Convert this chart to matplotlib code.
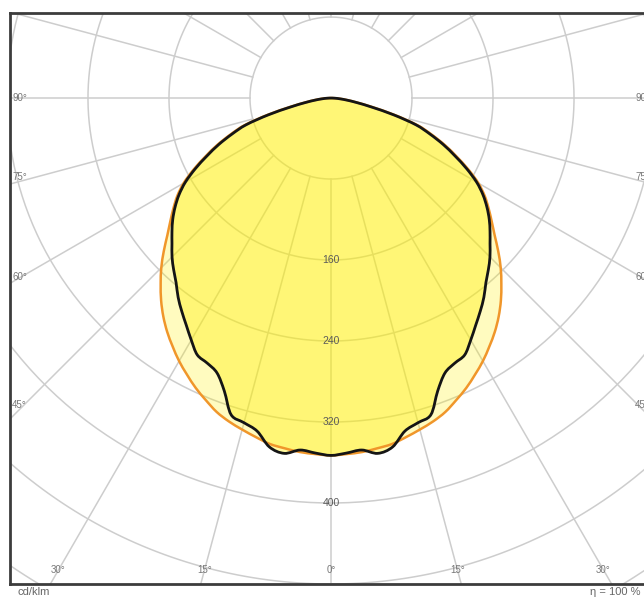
import numpy as np
import matplotlib.pyplot as plt
from matplotlib.path import Path
from matplotlib.patches import PathPatch

plt.rcParams['font.family'] = ['Liberation Sans', 'DejaVu Sans']

# gamma angles (deg) and intensities in cd/klm
gamma = np.arange(0, 92.5, 2.5)
c0_c180 = [353, 352, 351, 349, 347, 343, 339, 335, 330, 323, 316, 308, 300,
           291, 282, 272, 261, 249, 237, 224, 211, 200, 190, 180, 168, 153,
           137, 122, 106, 90, 66, 43, 27, 17, 10, 4, 0]
c90_c270 = [353, 351, 349, 354, 350, 337, 332, 328, 308, 294, 289, 286, 276,
            266, 257, 248, 238, 230, 222, 213, 205, 197, 188, 178, 166, 151,
            135, 120, 104, 88, 64, 41, 26, 16, 9, 4, 0]

rings = [80, 160, 240, 320, 400, 480, 560]
ring_labels = [160, 240, 320, 400]
spokes = np.arange(0, 360, 15)
bottom_angles = [-30, -15, 0, 15, 30]
side_angles = [90, 75, 60, 45]
side_nudge = [0, 4, 0, 4]


def to_xy(ang, r):
    a = np.radians(ang)
    return np.asarray(r) * np.sin(a), -np.asarray(r) * np.cos(a)


def full_curve(vals):
    ang = np.concatenate([-gamma[::-1], gamma[1:]])
    r = np.concatenate([np.asarray(vals)[::-1], np.asarray(vals)[1:]])
    return to_xy(ang, r)


def smooth_path(x, y):
    # catmull-rom through the read points, drawn as cubic beziers
    p = np.column_stack([x, y])
    n = len(p)
    verts = [p[0]]
    codes = [Path.MOVETO]
    for i in range(n - 1):
        a = p[max(i - 1, 0)]
        b = p[min(i + 2, n - 1)]
        verts += [p[i] + (p[i + 1] - a) / 6, p[i + 1] - (b - p[i]) / 6, p[i + 1]]
        codes += [Path.CURVE4] * 3
    return Path(verts, codes)


fig = plt.figure(figsize=(6.44, 6.01), dpi=100)
ax = fig.add_axes([10 / 644, 17 / 601, 642 / 644, 571 / 601])
ax.set_xlim(-317, 317)
ax.set_ylim(-480, 84)
ax.set_xticks([])
ax.set_yticks([])
for s in ax.spines.values():
    s.set_color('#3c3c3c')
    s.set_linewidth(2)

grid_col = '#cdcdcd'
t = np.linspace(0, 2 * np.pi, 400)
for r in rings:
    ax.plot(r * np.cos(t), r * np.sin(t), color=grid_col, lw=1.1, zorder=1)
for sp in spokes:
    x, y = to_xy(sp, np.array([80, 700]))
    ax.plot(x, y, color=grid_col, lw=1.1, zorder=1)

path0 = smooth_path(*full_curve(c0_c180))
path9 = smooth_path(*full_curve(c90_c270))
ax.add_patch(PathPatch(path0, facecolor='#fff000', alpha=0.25, lw=0, zorder=2))
ax.add_patch(PathPatch(path9, facecolor='#fff000', alpha=0.38, lw=0, zorder=2))
ax.add_patch(PathPatch(path0, facecolor='none', edgecolor='#f0962a', lw=1.8,
                       zorder=3))
ax.add_patch(PathPatch(path9, facecolor='none', edgecolor='#151515', lw=2.0,
                       zorder=4))

for r in ring_labels:
    ax.text(0, -r, str(r), ha='center', va='center', fontsize=7.5,
            color='#5a5a5a', zorder=5)

ylab = -466
for a in bottom_angles:
    ax.text(-ylab * np.tan(np.radians(a)), ylab, f'{abs(a)}°', ha='center',
            va='center', fontsize=7, color='#777777', zorder=5)
for a, nudge in zip(side_angles, side_nudge):
    yy = 0 if a == 90 else -307 / np.tan(np.radians(a))
    ax.text(-315, yy + nudge, f'{a}°', ha='left', va='center', fontsize=7,
            color='#777777', zorder=5)
    ax.text(315, yy + nudge, f'{a}°', ha='right', va='center', fontsize=7,
            color='#777777', zorder=5)

fig.text(18 / 644, 9 / 601, 'cd/klm', ha='left', va='center', fontsize=8,
         color='#666666')
fig.text(640 / 644, 9 / 601, 'η = 100 %', ha='right', va='center', fontsize=8,
         color='#666666')

fig.savefig('out.png', dpi=100)
